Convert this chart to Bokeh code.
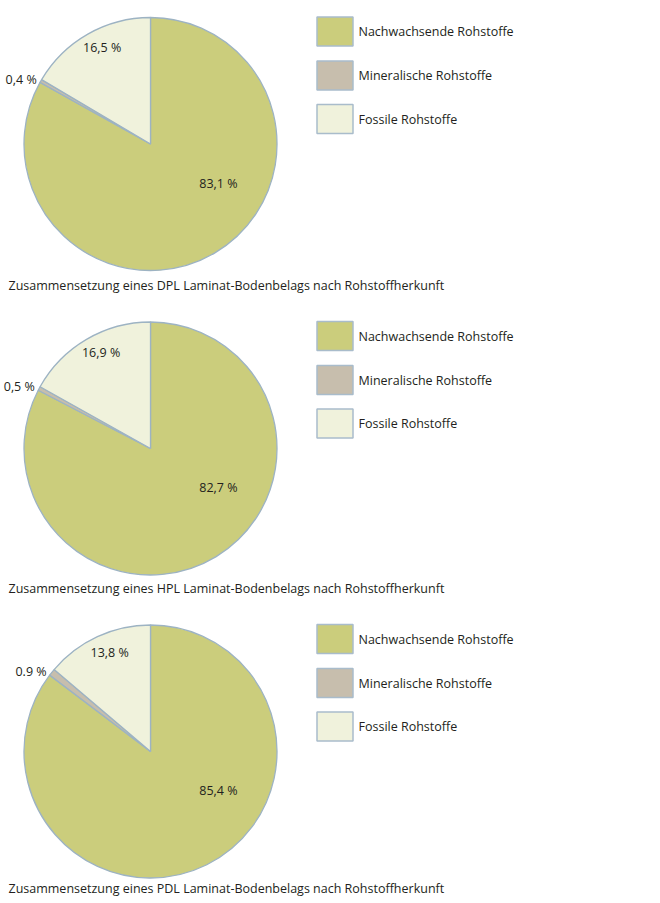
import numpy as np
from bokeh.plotting import figure
from bokeh.models import Range1d, ColumnDataSource
from bokeh.core.properties import value
from bokeh.embed import file_html
from bokeh.resources import INLINE

# ---- data ----
categories = ["Nachwachsende Rohstoffe", "Mineralische Rohstoffe", "Fossile Rohstoffe"]
dpl_values = [83.1, 0.4, 16.5]
hpl_values = [82.7, 0.5, 16.9]
pdl_values = [85.4, 0.9, 13.8]
dpl_labels = ["83,1 %", "0,4 %", "16,5 %"]
hpl_labels = ["82,7 %", "0,5 %", "16,9 %"]
pdl_labels = ["85,4 %", "0.9 %", "13,8 %"]
captions = [
    "Zusammensetzung eines DPL Laminat-Bodenbelags nach Rohstoffherkunft",
    "Zusammensetzung eines HPL Laminat-Bodenbelags nach Rohstoffherkunft",
    "Zusammensetzung eines PDL Laminat-Bodenbelags nach Rohstoffherkunft",
]

# ---- style ----
colors = ["#cbcd7c", "#c7bead", "#f0f2dc"]
stroke = "#9db3c3"
text_color = "#231f20"
FONT = "Open Sans"
FS = "12.5px"

W, H = 660, 903
p = figure(width=W, height=H, x_range=Range1d(0, W), y_range=Range1d(0, H),
           output_backend="svg", toolbar_location=None, min_border=0)
p.axis.visible = False
p.grid.visible = False
p.outline_line_color = None
p.background_fill_color = "white"


def Y(py):
    return H - py


panels = [(dpl_values, dpl_labels, captions[0], 143.5, 285),
          (hpl_values, hpl_labels, captions[1], 448, 588),
          (pdl_values, pdl_labels, captions[2], 751, 888)]
cx = 150
R = 126.5

for vals, labs, cap, cy, capy in panels:
    v = np.array(vals, dtype=float)
    frac = v / v.sum()
    cum = np.concatenate([[0], np.cumsum(frac)])
    start = np.pi / 2 - 2 * np.pi * cum[:-1]
    end = np.pi / 2 - 2 * np.pi * cum[1:]
    src = ColumnDataSource(dict(start=start, end=end, color=colors))
    p.wedge(x=cx, y=Y(cy), radius=R, start_angle="start", end_angle="end", direction="clock",
            fill_color="color", line_color=stroke, line_width=1.3, source=src)

    # green label
    a = np.deg2rad(120)
    p.text(x=[cx + 0.62 * R * np.sin(a)], y=[Y(cy) + 0.62 * R * np.cos(a)], text=[labs[0]],
           text_align="center", text_baseline="middle", text_font=value(FONT), text_font_size=FS,
           text_color=text_color)
    # fossil label
    mid = (cum[2] + cum[3]) / 2
    a = 2 * np.pi * mid + 2 * np.pi * (1 - mid) * 0.1
    p.text(x=[cx + 0.85 * R * np.sin(a)], y=[Y(cy) + 0.85 * R * np.cos(a)], text=[labs[2]],
           text_align="center", text_baseline="middle", text_font=value(FONT), text_font_size=FS,
           text_color=text_color)
    # mineral label (outside)
    a = 2 * np.pi * cum[1]
    p.text(x=[cx + 1.03 * R * np.sin(a)], y=[Y(cy) + 1.03 * R * np.cos(a) + 1.5], text=[labs[1]],
           text_align="right", text_baseline="middle", text_font=value(FONT), text_font_size=FS,
           text_color=text_color)

    # legend
    ly = [cy - 112.5, cy - 68.5, cy - 25]
    p.rect(x=[334.5] * 3, y=[Y(t) for t in ly], width=36, height=29, fill_color=colors,
           line_color="#a9bccb", line_width=1.5)
    p.text(x=[358] * 3, y=[Y(t) for t in ly], text=categories, text_align="left",
           text_baseline="middle", text_font=value(FONT), text_font_size=FS, text_color=text_color)

    # caption
    p.text(x=[8], y=[Y(capy)], text=[cap], text_align="left", text_baseline="middle",
           text_font=value(FONT), text_font_size=FS, text_color=text_color)

open("out.html", "w").write(file_html(p, INLINE))
